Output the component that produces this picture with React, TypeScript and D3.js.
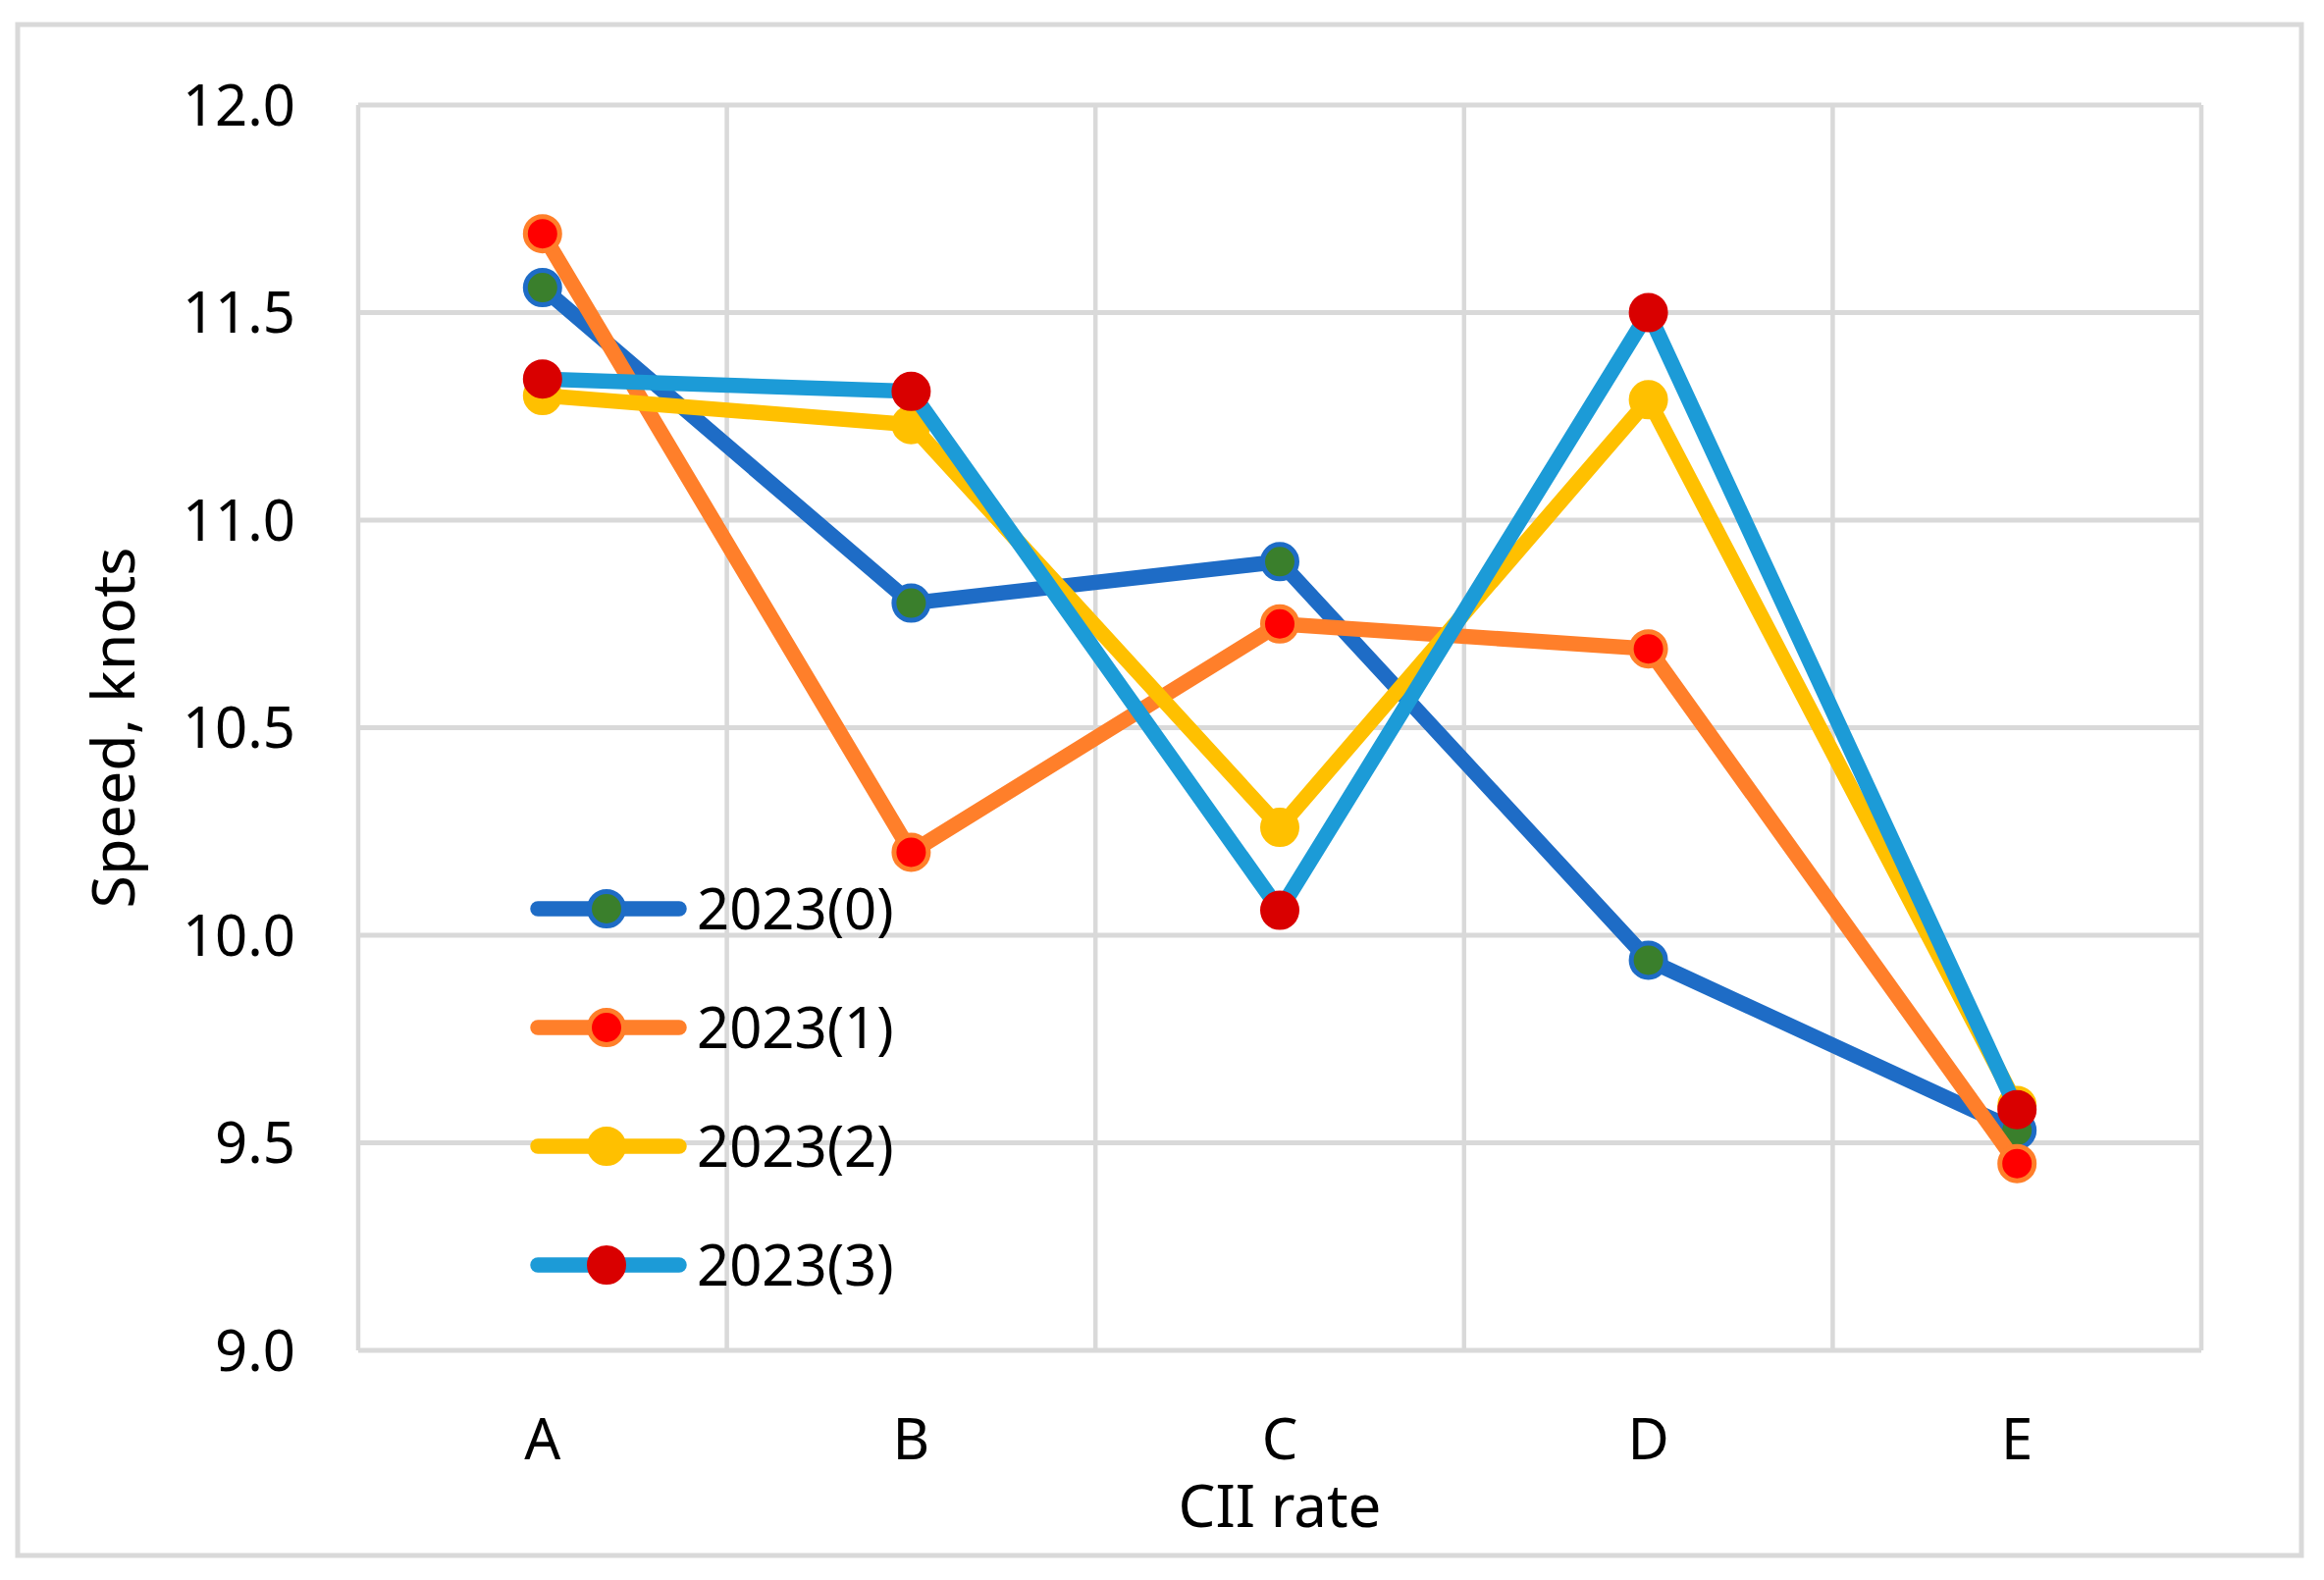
import React from "react";
import { scaleBand, scaleLinear, line } from "d3";

const width = 2368;
const height = 1610;

const categories = ["A", "B", "C", "D", "E"];
const yTicks = [9.0, 9.5, 10.0, 10.5, 11.0, 11.5, 12.0];

const series0 = [11.56, 10.8, 10.9, 9.94, 9.53];
const series1 = [11.69, 10.2, 10.75, 10.69, 9.45];
const series2 = [11.3, 11.23, 10.26, 11.29, 9.59];
const series3 = [11.34, 11.31, 10.06, 11.5, 9.58];

const seriesNames = ["2023(0)", "2023(1)", "2023(2)", "2023(3)"];

// line colour, marker fill, marker border
const styles = [
  { line: "#1E6CC6", fill: "#3A7F2C", border: "#1E6CC6" },
  { line: "#FF7F2A", fill: "#FF0000", border: "#FF7F2A" },
  { line: "#FFC000", fill: "#FFC000", border: "#FFC000" },
  { line: "#1C9BD7", fill: "#D90000", border: "#D90000" },
];

const plot = { left: 365, right: 2243, top: 107, bottom: 1376 };
const font = "'Noto Sans', 'Open Sans', sans-serif";
const grid = "#d9d9d9";

const x = scaleBand().domain(categories).range([plot.left, plot.right]);
const y = scaleLinear().domain([9, 12]).range([plot.bottom, plot.top]);
const cx = (c: string) => (x(c) || 0) + x.bandwidth() / 2;

const lineGen = line<number>()
  .x((_, i) => cx(categories[i]))
  .y((d) => y(d));

const Marker = ({ px, py, s }: { px: number; py: number; s: typeof styles[0] }) => (
  <circle cx={px} cy={py} r={17.5} fill={s.fill} stroke={s.border} strokeWidth={5} />
);

export default function App() {
  const all = [series0, series1, series2, series3];
  const legendY = [926, 1047, 1168, 1289];

  return (
    <svg
      width={width}
      height={height}
      style={{ position: "absolute", left: 0, top: 0, background: "white" }}
    >
      <rect x={0} y={0} width={width} height={height} fill="white" />
      {/* outer frame */}
      <rect x={18} y={25} width={2327} height={1560} fill="white" stroke={grid} strokeWidth={5} />

      {/* horizontal grid */}
      {yTicks.map((t) => (
        <line key={t} x1={plot.left} x2={plot.right} y1={y(t)} y2={y(t)} stroke={grid} strokeWidth={5} />
      ))}
      {/* vertical grid */}
      {categories.map((c) => (
        <line key={c} x1={x(c)} x2={x(c)} y1={plot.top} y2={plot.bottom} stroke={grid} strokeWidth={4.5} />
      ))}
      <line x1={plot.right} x2={plot.right} y1={plot.top} y2={plot.bottom} stroke={grid} strokeWidth={4.5} />

      {/* y tick labels */}
      {yTicks.map((t) => (
        <text key={t} x={301} y={y(t)} dy="0.36em" textAnchor="end" fontFamily={font} fontSize={58} fill="#000">
          {t.toFixed(1)}
        </text>
      ))}
      {/* x tick labels */}
      {categories.map((c) => (
        <text key={c} x={cx(c)} y={1487} textAnchor="middle" fontFamily={font} fontSize={58} fill="#000">
          {c}
        </text>
      ))}
      <text x={(plot.left + plot.right) / 2} y={1556} textAnchor="middle" fontFamily={font} fontSize={60} fill="#000">
        CII rate
      </text>
      <text
        transform={`translate(137,${(plot.top + plot.bottom) / 2}) rotate(-90)`}
        textAnchor="middle"
        fontFamily={font}
        fontSize={61}
        fill="#000"
      >
        Speed, knots
      </text>

      {/* series */}
      {all.map((d, si) => (
        <g key={si}>
          <path
            d={lineGen(d) || ""}
            fill="none"
            stroke={styles[si].line}
            strokeWidth={15.5}
            strokeLinejoin="round"
            strokeLinecap="round"
          />
          {d.map((v, i) => (
            <Marker key={i} px={cx(categories[i])} py={y(v)} s={styles[si]} />
          ))}
        </g>
      ))}

      {/* legend */}
      {seriesNames.map((n, i) => (
        <g key={n}>
          <line
            x1={548}
            x2={692}
            y1={legendY[i]}
            y2={legendY[i]}
            stroke={styles[i].line}
            strokeWidth={15.5}
            strokeLinecap="round"
          />
          <Marker px={618} py={legendY[i]} s={styles[i]} />
          <text x={710} y={legendY[i]} dy="0.36em" fontFamily={font} fontSize={58} fill="#000">
            {n}
          </text>
        </g>
      ))}
    </svg>
  );
}
